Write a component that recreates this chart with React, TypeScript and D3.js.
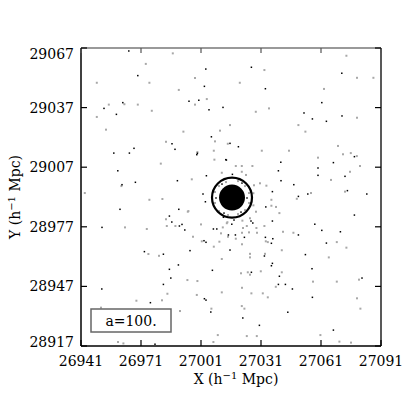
import React from 'react';
import * as d3 from 'd3';

const xTicks = [26941, 26971, 27001, 27031, 27061, 27091];
const yTicks = [28917, 28947, 28977, 29007, 29037, 29067];

// halo found by the group finder
const haloCenter = [27016.5, 28991.7];
const haloRadius = 10;
const coreRadius = 6.5;
const epochLabel = 'a=100.';

// particles drawn black
const darkParticles = [
  [26964.9, 29065.5], [27003.4, 29056.4], [26969.4, 29053.1], [27002.7, 29047.7], [26999.9, 29040.7],
  [26995.0, 29040.2], [26961.9, 29039.5], [27012.0, 29037.1], [26952.5, 29036.6], [27005.0, 29035.9],
  [26958.7, 29033.6], [27006.2, 29022.3], [26986.5, 29018.8], [26967.5, 29016.5], [26988.0, 29016.0],
  [26998.9, 29013.3], [26957.4, 29014.1], [26965.2, 29014.1], [27013.4, 29010.8],
  [27026.2, 29057.3], [27071.4, 29054.3], [27033.2, 29046.5], [27061.4, 29039.5], [27052.5, 29034.3],
  [27071.5, 29032.8], [27056.7, 29031.3], [27063.7, 29030.1], [27015.5, 29019.0], [27019.7, 29017.3],
  [27077.7, 29012.3], [27040.9, 29009.5], [27067.2, 29009.3], [27059.5, 29006.6],
  [26959.4, 29005.2], [26968.2, 28999.4], [26961.5, 28998.2], [26989.2, 29000.2], [26960.5, 28985.8],
  [26989.9, 28985.8], [26985.2, 28982.4], [26986.4, 28979.4], [26991.5, 28978.2],
  [27039.7, 29005.2], [27059.5, 29002.9], [27073.0, 29002.4], [27041.0, 29000.2], [27047.4, 28998.2],
  [27054.4, 28993.5], [27074.2, 28995.2], [27083.9, 28993.5], [27049.7, 28992.3], [27077.7, 28982.9],
  [27036.7, 28979.9], [27057.9, 28978.3],
  [26951.5, 28976.7], [26990.2, 28977.4], [26992.9, 28975.4], [27008.9, 28975.9], [27003.5, 28969.2],
  [26995.5, 28965.0], [26972.7, 28964.5], [26982.2, 28963.2], [26989.7, 28957.8], [26985.2, 28955.6],
  [27006.7, 28955.1], [26985.9, 28951.2], [26982.2, 28948.0], [26951.4, 28945.7], [26975.7, 28938.8],
  [27002.7, 28940.8], [27003.5, 28940.1], [27005.9, 28934.1], [26978.0, 28917.9],
  [27016.4, 28978.3], [27026.0, 28979.9], [27026.9, 28978.9], [27061.4, 28975.2], [27070.7, 28974.5],
  [27049.7, 28972.9], [27018.2, 28972.9], [27022.7, 28971.7], [27033.2, 28971.7], [27036.9, 28971.0],
  [27036.2, 28968.7], [27063.7, 28968.8], [27015.5, 28965.3], [27053.2, 28963.0], [27032.7, 28962.3],
  [27036.7, 28958.6], [27036.2, 28957.4], [27056.5, 28955.9], [27026.2, 28954.1], [27040.2, 28952.1],
  [27081.5, 28951.2], [27039.7, 28948.0], [27043.2, 28948.0], [27046.7, 28945.7], [27056.7, 28941.5],
  [27044.4, 28934.0], [27021.9, 28931.1], [27030.2, 28927.4], [27067.2, 28925.0],
  [26999.2, 29014.0], [27013.7, 29010.6], [27003.7, 29002.7], [27016.7, 29003.4], [27036.7, 28994.7],
  [27002.0, 28993.5], [27003.2, 28989.6], [27033.4, 28987.0], [27012.2, 28981.8], [27017.5, 28980.4],
  [27007.2, 28975.9], [27014.7, 28972.9], [27002.5, 28970.0],
  [27011.5, 28998.5], [27021.5, 28999.0], [27024.0, 28991.5], [27021.0, 28984.4], [27012.5, 28983.9],
  [27008.5, 28991.5],
];

// particles drawn grey
const lightParticles = [
  [26986.9, 29064.3], [26973.4, 29059.0], [26998.0, 29051.9], [26948.9, 29049.5], [26975.2, 29049.5],
  [26989.9, 29045.9], [27003.9, 29041.3], [26962.7, 29038.7], [26954.9, 29038.5], [26969.4, 29038.5],
  [26998.0, 29038.5], [26976.4, 29035.4], [26948.9, 29032.3], [26953.5, 29025.9], [26992.2, 29024.9],
  [27010.5, 29025.4], [27008.0, 29020.0], [26983.5, 29019.8], [27014.4, 29018.8], [26999.2, 29014.6],
  [27007.4, 29015.3], [27007.7, 29010.8], [26980.9, 29008.8],
  [27073.7, 29063.1], [27032.7, 29055.9], [27079.0, 29052.0], [27087.2, 29052.0], [27020.4, 29049.5],
  [27062.5, 29046.4], [27035.0, 29036.6], [27028.4, 29034.9], [27079.0, 29031.9], [27015.5, 29028.2],
  [27049.7, 29028.2], [27053.2, 29024.9], [27069.5, 29017.7], [27031.4, 29015.3], [27045.0, 29015.3],
  [27075.9, 29014.1], [27072.0, 29013.5], [27078.9, 29012.6], [27059.5, 29011.8], [27080.5, 29007.6],
  [27018.4, 29007.6], [27021.4, 29007.6], [27026.7, 29007.6],
  [26961.2, 28997.5], [26942.9, 28994.0], [26975.2, 28990.6], [26981.7, 28991.0], [26994.4, 28984.6],
  [26983.5, 28980.8],
  [27075.5, 29004.7], [27066.0, 29000.6], [27056.0, 28994.0], [27073.0, 28994.7], [27048.9, 28991.1],
  [27036.2, 28990.6], [27036.2, 28987.6], [27038.5, 28987.0], [27040.2, 28983.9],
  [26963.0, 28976.7], [26973.9, 28975.9], [26983.9, 28977.4], [26988.2, 28977.4], [27001.0, 28978.2],
  [27011.9, 28976.7], [27013.9, 28978.8], [26997.0, 28972.0], [27001.4, 28969.7], [27010.2, 28969.5],
  [27014.5, 28972.0], [27007.4, 28967.0], [27011.4, 28960.8], [26974.7, 28963.3], [26980.0, 28962.4],
  [26994.2, 28950.2], [26999.2, 28949.7], [26984.2, 28943.3], [27011.4, 28944.0], [26968.7, 28939.8],
  [26981.5, 28940.0], [26998.9, 28942.7], [26951.0, 28936.3], [26990.5, 28934.6], [27006.2, 28935.8],
  [27009.4, 28922.5], [26959.5, 28919.0], [26962.2, 28918.3], [27007.2, 28919.0],
  [27021.7, 28980.1], [27023.9, 28977.4], [27022.0, 28976.4], [27028.7, 28976.4], [27032.7, 28977.4],
  [27042.0, 28974.5], [27047.2, 28974.0], [27021.5, 28974.0], [27025.0, 28974.2], [27029.0, 28974.0],
  [27018.4, 28971.0], [27033.4, 28969.7], [27034.4, 28969.3], [27021.5, 28968.2], [27068.9, 28969.3],
  [27073.7, 28966.5], [27041.4, 28965.2], [27025.5, 28963.4], [27033.0, 28963.4], [27025.5, 28961.6],
  [27064.9, 28961.6], [27030.9, 28954.6], [27021.0, 28953.6], [27024.4, 28954.1], [27025.5, 28952.9],
  [27041.4, 28954.1], [27057.0, 28949.4], [27068.9, 28949.4], [27080.0, 28950.4], [27038.4, 28946.8],
  [27021.5, 28946.3], [27026.2, 28943.5], [27031.9, 28943.5], [27034.4, 28941.5], [27079.0, 28941.0],
  [27021.4, 28937.1], [27022.7, 28935.8], [27080.7, 28935.8], [27060.7, 28922.5], [27023.9, 28922.0],
  [27028.9, 28922.0], [27070.2, 28919.2], [27076.0, 28918.7],
  [26996.4, 29000.9], [27011.4, 29004.2], [27021.4, 29004.7], [27023.5, 29003.1], [27027.5, 28997.9],
  [27030.5, 28998.9], [27033.7, 28997.7], [27027.2, 28993.9], [26994.7, 28984.9], [27027.2, 28987.8],
  [27028.5, 28984.6], [27014.2, 28979.3], [27025.5, 28981.3], [27011.0, 28973.7],
  [27010.0, 28997.5], [27013.5, 28999.5], [27019.5, 29000.0], [27023.0, 28997.5], [27025.0, 28994.0],
  [27025.0, 28989.0], [27023.0, 28985.4], [27019.5, 28983.4], [27014.5, 28982.9], [27010.0, 28984.9],
  [27008.0, 28989.0], [27008.0, 28994.5],
];

const font = '"DejaVu Serif", serif';

const AxisTitle = ({ letter }) => (
  <>
    {letter} (h<tspan dy="-5" fontSize="10">−1</tspan><tspan dy="5"> Mpc)</tspan>
  </>
);

export default function App() {
  const left = 81, right = 381, top = 48, bottom = 346;
  const x = d3.scaleLinear().domain([26941, 27091]).range([left, right]);
  const y = d3.scaleLinear().domain([28917, 29067]).range([bottom, top]);

  const hx = x(haloCenter[0]);
  const hy = y(haloCenter[1]);
  const rHalo = x(haloCenter[0] + haloRadius) - hx;
  const rCore = x(haloCenter[0] + coreRadius) - hx;

  return (
    <svg width={407} height={407} style={{ position: 'absolute', left: 0, top: 0 }}>
      <rect width={407} height={407} fill="#fff" />

      {lightParticles.map((d, i) => (
        <rect key={'l' + i} x={x(d[0]) - 1} y={y(d[1]) - 1} width={2} height={2} fill="#a8a8a8" />
      ))}
      {darkParticles.map((d, i) => (
        <rect key={'d' + i} x={x(d[0]) - 0.75} y={y(d[1]) - 0.75} width={1.5} height={1.5} fill="#000" />
      ))}

      {/* halo */}
      <circle cx={hx} cy={hy} r={rCore} fill="#000" />
      <circle cx={hx} cy={hy} r={rHalo} fill="none" stroke="#000" strokeWidth={2.2} />

      {/* frame */}
      <line x1={left} x2={right} y1={top} y2={top} stroke="#777" strokeWidth={1.5} />
      <line x1={right} x2={right} y1={top} y2={bottom} stroke="#222" strokeWidth={1.5} />
      <line x1={left} x2={left} y1={top} y2={bottom} stroke="#000" strokeWidth={1.5} />
      <line x1={left} x2={right} y1={bottom} y2={bottom} stroke="#000" strokeWidth={1.5} />

      {xTicks.map(t => (
        <g key={'xt' + t}>
          <line x1={x(t)} x2={x(t)} y1={bottom} y2={bottom - 6} stroke="#000" strokeWidth={1.2} />
          <line x1={x(t)} x2={x(t)} y1={top} y2={top + 5} stroke="#555" strokeWidth={1.2} />
          <text x={x(t)} y={366} textAnchor="middle" fontFamily={font} fontSize={14}>{t}</text>
        </g>
      ))}
      {yTicks.map((t, i) => {
        const py = y(t);
        const dy = i === yTicks.length - 1 ? 11 : i === 0 ? 1 : 5;
        return (
          <g key={'yt' + t}>
            <line x1={left} x2={left + 6} y1={py} y2={py} stroke="#000" strokeWidth={1.2} />
            <line x1={right} x2={right - 6} y1={py} y2={py} stroke="#000" strokeWidth={1.2} />
            <text x={74} y={py + dy} textAnchor="end" fontFamily={font} fontSize={14}>{t}</text>
          </g>
        );
      })}

      {/* epoch box */}
      <rect x={91} y={309} width={80} height={23} fill="#fff" stroke="#666" strokeWidth={1.5} />
      <text x={131} y={326} textAnchor="middle" fontFamily={font} fontSize={14}>{epochLabel}</text>

      <text x={(left + right) / 2 + 5} y={384} textAnchor="middle" fontFamily={font} fontSize={14}>
        <AxisTitle letter="X" />
      </text>
      <text transform={`translate(20,${(top + bottom) / 2}) rotate(-90)`} textAnchor="middle" fontFamily={font} fontSize={14}>
        <AxisTitle letter="Y" />
      </text>
    </svg>
  );
}
